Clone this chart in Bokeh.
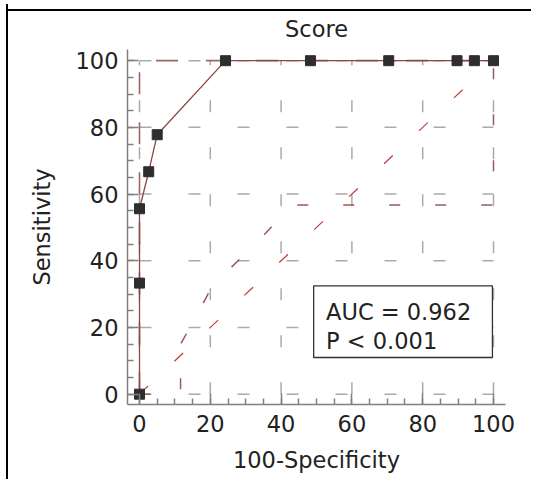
from bokeh.plotting import figure
from bokeh.models import Range1d, FixedTicker, Label
from bokeh.embed import file_html
from bokeh.resources import INLINE

# ---- data ----
roc_fpr = [0, 0, 0, 2.6, 5.0, 24.3, 48.3, 70.4, 89.7, 94.6, 100]
roc_sens = [0, 33.3, 55.6, 66.7, 77.8, 100, 100, 100, 100, 100, 100]

upper_x = [0, 0, 100]
upper_y = [0, 100, 100]

lower_x = [0, 11.6, 11.6, 15.3, 19.5, 23.7, 33.6, 43.0, 100, 100]
lower_y = [0, 0, 15, 22, 30.3, 35.7, 46, 56.7, 56.7, 100]

diag_x = [0, 100]
diag_y = [0, 100]

major_ticks = [0, 20, 40, 60, 80, 100]
minor_ticks = list(range(0, 101, 5))

title_text = "Score"
x_label = "100-Specificity"
y_label = "Sensitivity"
auc_text = "AUC = 0.962"
p_text = "P < 0.001"

FONT = "DejaVu Sans"
FS = "22.5px"
TXT = "#222222"

XR = (-3.39, 103.39)
YR = (-3.1, 103.35)

p = figure(width=525, height=475, output_backend="svg", toolbar_location=None,
           x_range=Range1d(*XR), y_range=Range1d(*YR),
           min_border_left=119, min_border_right=28, min_border_top=45,
           min_border_bottom=75, title=title_text)
p.styles = {"border-left": "2px solid #000000",
            "margin-left": "6px", "margin-top": "4px",
            "background": "linear-gradient(#000000, #000000) 0px 5px / 100% 2px no-repeat"}
p.outline_line_color = None
p.background_fill_color = "white"
p.border_fill_color = None
p.xgrid.visible = False
p.ygrid.visible = False

p.title.align = "center"
p.title.text_font = FONT
p.title.text_font_size = FS
p.title.text_font_style = "normal"
p.title.text_color = TXT
p.title.standoff = 16

for ax in (p.xaxis[0], p.yaxis[0]):
    ax.ticker = FixedTicker(ticks=major_ticks, minor_ticks=minor_ticks)
    ax.axis_line_color = "#808080"
    ax.axis_line_width = 1.5
    ax.major_tick_line_color = "#808080"
    ax.minor_tick_line_color = "#808080"
    ax.major_tick_line_width = 1.5
    ax.minor_tick_line_width = 1.5
    ax.major_tick_in = 11
    ax.major_tick_out = 0
    ax.minor_tick_in = 6
    ax.minor_tick_out = 0
    ax.major_label_text_font = FONT
    ax.major_label_text_font_size = FS
    ax.major_label_text_color = TXT
    ax.axis_label_text_font = FONT
    ax.axis_label_text_font_size = FS
    ax.axis_label_text_font_style = "normal"
    ax.axis_label_text_color = TXT

p.xaxis.axis_label = x_label
p.yaxis.axis_label = y_label
p.xaxis.major_label_standoff = 10
p.yaxis.major_label_standoff = 9
p.xaxis.axis_label_standoff = 12
p.yaxis.axis_label_standoff = 18

# grid drawn from the tick list, from 0 to 100 only
lo, hi = major_ticks[0], major_ticks[-1]
p.segment(x0=[lo] * len(major_ticks), y0=major_ticks, x1=[hi] * len(major_ticks), y1=major_ticks,
          line_color="#aaaaaa", line_width=1.5, line_dash="12 37")
p.segment(x0=major_ticks, y0=[lo] * len(major_ticks), x1=major_ticks, y1=[hi] * len(major_ticks),
          line_color="#aaaaaa", line_width=1.5, line_dash="12 35")

# reference diagonal
p.line(diag_x, diag_y, line_color="#c03a3a", line_width=1.2, line_dash="12 36")

# confidence bounds
p.line(upper_x, upper_y, line_color="#a06464", line_width=1.6, line_dash="22 28")
p.line(lower_x, lower_y, line_color="#9c5a5a", line_width=1.5, line_dash="11 35")

# ROC curve
p.line(roc_fpr, roc_sens, line_color="#8b4646", line_width=1.3)
p.scatter(roc_fpr, roc_sens, marker="square", size=10, fill_color="#2e2e2e",
          line_color="#2e2e2e")

# AUC box
p.quad(left=49.2, right=99.7, bottom=11.0, top=32.5, fill_color="white",
       line_color="#333333", line_width=1.3)
p.add_layout(Label(x=52.7, y=24.5, text=auc_text, text_font=FONT, text_font_size=FS,
                   text_color=TXT, text_baseline="alphabetic"))
p.add_layout(Label(x=52.7, y=16.0, text=p_text, text_font=FONT, text_font_size=FS,
                   text_color=TXT, text_baseline="alphabetic"))

open("out.html", "w").write(file_html(p, INLINE))
